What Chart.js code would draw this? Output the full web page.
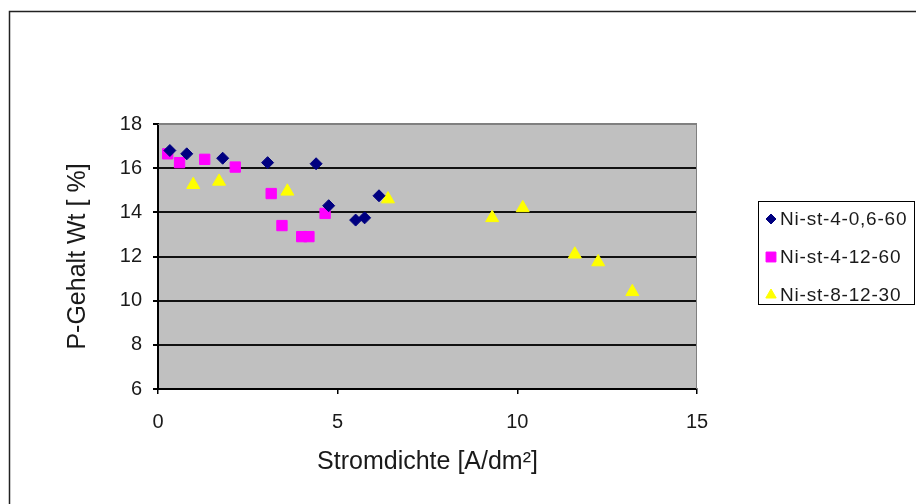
<!DOCTYPE html>
<html>
<head>
<meta charset="utf-8">
<script src="https://cdn.jsdelivr.net/npm/chart.js@4/dist/chart.umd.min.js"></script>
<style>
  html, body { margin: 0; padding: 0; background: #fff; }
  #wrap { width: 916px; height: 504px; }
</style>
</head>
<body>
<div id="wrap"><canvas id="pChart" width="916" height="504"></canvas></div>
<script>
// Messwerte: P-Gehalt über Stromdichte
const seriesNames = ["Ni-st-4-0,6-60", "Ni-st-4-12-60", "Ni-st-8-12-30"];

const strom_4_06_60 = [0.33, 0.8, 1.8, 3.05, 4.4, 4.75, 5.5, 5.75, 6.15];
const pGehalt_4_06_60 = [16.8, 16.65, 16.45, 16.25, 16.2, 14.3, 13.65, 13.75, 14.75];

const strom_4_12_60 = [0.27, 0.6, 1.3, 2.15, 3.15, 3.45, 4.0, 4.2, 4.65];
const pGehalt_4_12_60 = [16.65, 16.25, 16.4, 16.05, 14.85, 13.4, 12.9, 12.9, 13.95];

const strom_8_12_30 = [0.98, 1.7, 3.6, 6.4, 9.3, 10.15, 11.6, 12.25, 13.2];
const pGehalt_8_12_30 = [15.25, 15.4, 14.95, 14.6, 13.75, 14.2, 12.1, 11.75, 10.4];

const xTicks = [0, 5, 10, 15];
const yTicks = [6, 8, 10, 12, 14, 16, 18];

function toPoints(xs, ys) {
    return xs.map((x, i) => ({ x: x, y: ys[i] }));
}

Chart.defaults.font.family = "'Liberation Sans', Arial, sans-serif";
Chart.defaults.color = "#1a1a1a";

// grauer Plotbereich + Rahmen um das ganze Diagramm
const frame = {
    id: "frame",
    beforeDraw(chart) {
        const { ctx, chartArea: a } = chart;
        ctx.save();
        ctx.fillStyle = "#fff";
        ctx.fillRect(0, 0, chart.width, chart.height);
        ctx.strokeStyle = "#222";
        ctx.lineWidth = 1.5;
        ctx.strokeRect(9.5, 11.5, chart.width + 40, chart.height + 40);
        ctx.fillStyle = "#c0c0c0";
        ctx.fillRect(a.left, a.top, a.right - a.left, a.bottom - a.top);
        ctx.restore();
    },
    beforeDatasetsDraw(chart) {
        const { ctx, chartArea: a } = chart;
        ctx.save();
        ctx.strokeStyle = "#808080";
        ctx.lineWidth = 1;
        ctx.beginPath();
        ctx.moveTo(a.left, a.top + 0.5);
        ctx.lineTo(a.right - 0.5, a.top + 0.5);
        ctx.lineTo(a.right - 0.5, a.bottom);
        ctx.stroke();
        ctx.restore();
    }
};

// Legende mit Kasten rechts neben dem Plot
const boxLegend = {
    id: "boxLegend",
    afterDraw(chart) {
        const ctx = chart.ctx;
        const left = 758.5, top = 201.5, w = 156, h = 103;
        ctx.save();
        ctx.strokeStyle = "#000";
        ctx.lineWidth = 1;
        ctx.strokeRect(left, top, w, h);
        ctx.font = "19px 'Liberation Sans', Arial, sans-serif";
        ctx.letterSpacing = "0.8px";
        ctx.textBaseline = "middle";
        const rows = [219, 257, 295];
        const sizes = [5, 7, 6];
        chart.data.datasets.forEach((ds, i) => {
            ctx.fillStyle = ds.backgroundColor;
            ctx.strokeStyle = ds.borderColor;
            Chart.helpers.drawPoint(ctx, {
                pointStyle: ds.pointStyle,
                radius: sizes[i],
                rotation: 0,
                borderWidth: 1
            }, 771, rows[i]);
            ctx.fillStyle = "#1a1a1a";
            ctx.fillText(ds.label, 780, rows[i] + 1);
        });
        ctx.restore();
    }
};

const ctx = document.getElementById("pChart").getContext("2d");

new Chart(ctx, {
    type: "scatter",
    data: {
        datasets: [
            {
                label: seriesNames[0],
                data: toPoints(strom_4_06_60, pGehalt_4_06_60),
                pointStyle: "rectRot",
                pointRadius: 6,
                backgroundColor: "#000080",
                borderColor: "#000080",
                borderWidth: 1
            },
            {
                label: seriesNames[1],
                data: toPoints(strom_4_12_60, pGehalt_4_12_60),
                pointStyle: "rect",
                pointRadius: 7.3,
                backgroundColor: "#ff00ff",
                borderColor: "#ff00ff",
                borderWidth: 1
            },
            {
                label: seriesNames[2],
                data: toPoints(strom_8_12_30, pGehalt_8_12_30),
                pointStyle: "triangle",
                pointRadius: 7.5,
                backgroundColor: "#ffff00",
                borderColor: "#ffff00",
                borderWidth: 1
            }
        ]
    },
    options: {
        responsive: false,
        animation: false,
        layout: { padding: { left: 9, top: 124, right: 219, bottom: 0 } },
        plugins: {
            legend: { display: false },
            tooltip: { enabled: false }
        },
        scales: {
            x: {
                type: "linear",
                min: 0,
                max: 15,
                afterFit(scale) { scale.height = 115; },
                afterBuildTicks(scale) { scale.ticks = xTicks.map(v => ({ value: v })); },
                ticks: { font: { size: 20 }, padding: 16 },
                grid: { drawOnChartArea: false, tickLength: 5, color: "#000", lineWidth: 1.5 },
                border: { color: "#000", width: 2 },
                title: {
                    display: true,
                    text: "Stromdichte [A/dm²]",
                    font: { size: 25 },
                    padding: { top: 0, bottom: 27 }
                }
            },
            y: {
                type: "linear",
                min: 6,
                max: 18,
                afterFit(scale) { scale.width = 149; },
                afterBuildTicks(scale) { scale.ticks = yTicks.map(v => ({ value: v })); },
                ticks: { font: { size: 20 }, padding: 11 },
                grid: {
                    tickLength: 5,
                    lineWidth: 2,
                    color: (c) => (c.tick && c.tick.value === 18 ? "#808080" : "#111"),
                    tickColor: "#000"
                },
                border: { color: "#000", width: 2 },
                title: {
                    display: true,
                    text: "P-Gehalt Wt [ %]",
                    font: { size: 25 },
                    padding: { top: 54, bottom: 0 }
                }
            }
        }
    },
    plugins: [frame, boxLegend]
});
</script>
</body>
</html>
